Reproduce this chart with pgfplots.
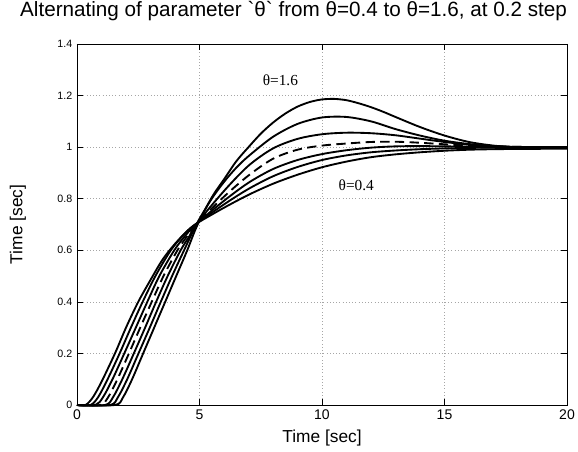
\documentclass[border=0pt]{standalone}
\usepackage{fontspec}
\setmainfont{Liberation Sans}
\newfontfamily\notex{Liberation Sans}[Ligatures=TeXOff]
\newfontfamily\serifthin{Liberation Serif}
\usepackage{pgfplots}
\pgfplotsset{compat=1.18}
\usetikzlibrary{calc}
\begin{document}
\begin{tikzpicture}
\begin{axis}[name=ax,
  scale only axis, width=367.5pt, height=270.75pt,
  xmin=0, xmax=20, ymin=0, ymax=1.4,
  xtick={0,5,10,15,20}, ytick={0,0.2,0.4,0.6,0.8,1,1.2,1.4},
  /pgf/number format/assume math mode=true,
  xticklabel style={font=\fontsize{10.5}{12}\selectfont},
  yticklabel style={font=\fontsize{8}{10}\selectfont},
  grid=major, major grid style={dotted, gray!70, line width=0.5pt},
  axis line style={black, line width=0.6pt},
  tick style={black, line width=0.5pt},
  xlabel={Time [sec]}, ylabel={Time [sec]},
  xlabel style={font=\fontsize{13}{15}\selectfont, at={(axis description cs:0.5,-0.0914)}, anchor=center},
  ylabel style={font=\fontsize{13}{15}\selectfont, at={(axis description cs:-0.1204,0.5)}, anchor=center},
  title={\notex Alternating of parameter `θ` from θ=0.4 to θ=1.6, at 0.2 step},
  title style={font=\fontsize{15.5}{18}\selectfont, at={(axis description cs:0.442,1.055)}, anchor=base},
  clip=false,
  cycle list={solid\\},
  every axis plot post/.append style={black, line width=1.4pt, smooth, mark=none},
]
\addplot coordinates {(0,0)(0.35,0)(0.65,0.03)(1.0,0.09)(1.55,0.2)(2.0,0.3)(2.5,0.4)(3.0,0.485)(3.5,0.565)(4.0,0.625)(4.5,0.675)(4.9,0.705)(6,0.765)(7,0.815)(8,0.858)(9,0.893)(10,0.922)(11,0.944)(12,0.961)(13,0.972)(14,0.98)(15,0.986)(16,0.99)(17,0.992)(18,0.993)(20,0.994)};
\addplot coordinates {(0,0)(0.55,0)(0.86,0.03)(1.25,0.1)(1.74,0.2)(2.2,0.3)(2.68,0.4)(3.2,0.5)(3.83,0.6)(4.4,0.665)(4.9,0.705)(6,0.778)(7,0.838)(8,0.887)(9,0.923)(10,0.95)(11,0.968)(12,0.98)(13,0.987)(14,0.992)(15,0.995)(16,0.997)(17,0.998)(18,0.998)(20,0.999)};
\addplot coordinates {(0,0)(0.75,0)(1.06,0.03)(1.45,0.1)(1.93,0.2)(2.4,0.3)(2.87,0.4)(3.36,0.5)(3.97,0.6)(4.45,0.66)(4.9,0.705)(6,0.792)(7,0.862)(8,0.915)(9,0.95)(10,0.973)(11,0.988)(12,0.998)(13,1.003)(14,1.004)(15,1.003)(16,1.002)(17,1.001)(18,1.0)(20,1.0)};
\addplot[dash pattern=on 7pt off 4pt] coordinates {(0,0)(0.95,0)(1.27,0.03)(1.65,0.1)(2.12,0.2)(2.58,0.3)(3.05,0.4)(3.53,0.5)(4.1,0.6)(4.5,0.655)(4.9,0.705)(6,0.808)(7,0.89)(8,0.955)(9,0.99)(10,1.006)(11,1.014)(12,1.02)(13,1.021)(14,1.017)(15,1.011)(16,1.006)(17,1.003)(18,1.001)(20,1.0)};
\addplot coordinates {(0,0)(1.15,0)(1.47,0.03)(1.85,0.1)(2.32,0.2)(2.78,0.3)(3.23,0.4)(3.7,0.5)(4.23,0.6)(4.57,0.652)(4.9,0.705)(6,0.83)(7,0.928)(8,0.995)(9,1.032)(10,1.05)(11,1.056)(12,1.054)(13,1.046)(14,1.033)(15,1.02)(16,1.01)(17,1.004)(18,1.001)(20,0.999)};
\addplot coordinates {(0,0)(1.35,0)(1.67,0.03)(2.05,0.1)(2.51,0.2)(2.97,0.3)(3.42,0.4)(3.88,0.5)(4.37,0.6)(4.9,0.705)(5.5,0.8)(6,0.865)(6.5,0.92)(7,0.965)(8,1.04)(9,1.09)(10,1.115)(11,1.117)(12,1.1)(13,1.07)(14,1.045)(15,1.025)(16,1.012)(17,1.004)(18,1.0)(20,0.998)};
\addplot coordinates {(0,0)(1.55,0)(1.88,0.03)(2.25,0.1)(2.7,0.2)(3.15,0.3)(3.6,0.4)(4.05,0.5)(4.5,0.6)(4.9,0.695)(5.5,0.805)(6,0.875)(6.5,0.945)(7,1.0)(7.5,1.052)(8,1.095)(8.5,1.13)(9,1.157)(9.5,1.175)(10,1.185)(10.5,1.187)(11,1.182)(11.5,1.17)(12,1.155)(12.5,1.137)(13,1.117)(14,1.078)(15,1.045)(16,1.02)(17,1.006)(18,0.999)(19,0.997)(20,0.998)};
\node[font=\serifthin\fontsize{11.5}{13}\selectfont] at (axis cs:8.3,1.26) {θ=1.6};
\node[font=\serifthin\fontsize{11.5}{13}\selectfont] at (axis cs:11.4,0.853) {θ=0.4};
\end{axis}
\pgfresetboundingbox
\path[use as bounding box] ($(ax.south west)+(-57.75pt,-35.25pt)$) rectangle ($(ax.north east)+(8.25pt,33pt)$);
\end{tikzpicture}
\end{document}
